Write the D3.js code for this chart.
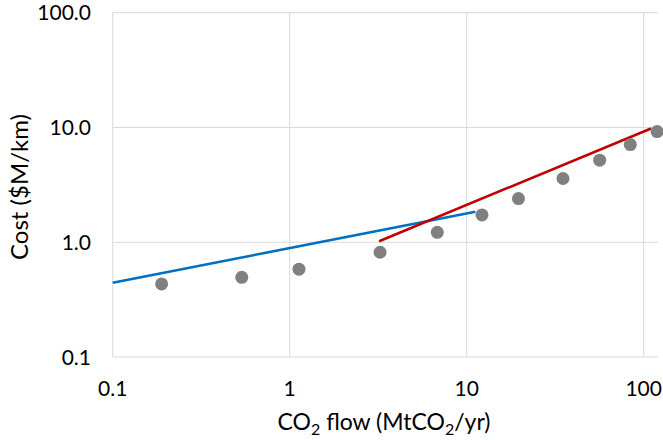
<!DOCTYPE html>
<html><head><meta charset="utf-8">
<script src="https://cdn.jsdelivr.net/npm/d3@7"></script>
<style>body{margin:0;background:#fff;} text{font-family:Lato, "Open Sans", sans-serif; fill:#000;}</style>
</head><body>
<svg id="c" width="663" height="440"></svg>
<script>
const flowX = [0.189, 0.536, 1.128, 3.24, 6.82, 12.2, 19.6, 35.0, 56.4, 84.0, 119];
const costY = [0.433, 0.495, 0.582, 0.818, 1.22, 1.73, 2.40, 3.59, 5.19, 7.10, 9.21];
const blueX = [0.1, 11.2];
const blueY = [0.444, 1.84];
const redX = [3.2, 110];
const redY = [1.02, 9.8];
const xTicks = [0.1, 1, 10, 100];
const yTicks = [0.1, 1, 10, 100];
const xTickLabels = ["0.1", "1", "10", "100"];
const yTickLabels = ["0.1", "1.0", "10.0", "100.0"];

const svg = d3.select("#c");
const L = 112.7, R = 658, T = 12.7, B = 357;
const x = d3.scaleLog().domain([0.1, 120]).range([L, L + 177 * Math.log10(1200)]);
const y = d3.scaleLog().domain([0.1, 100]).range([B, T]);

const g = svg.append("g");
g.selectAll(".gy").data(yTicks).join("line")
  .attr("x1", L).attr("x2", R).attr("y1", d => y(d)).attr("y2", d => y(d))
  .attr("stroke", "#d9d9d9").attr("stroke-width", 1);
g.selectAll(".gx").data(xTicks).join("line")
  .attr("y1", T).attr("y2", B).attr("x1", d => x(d)).attr("x2", d => x(d))
  .attr("stroke", "#d9d9d9").attr("stroke-width", 1);

g.selectAll(".ty").data(yTicks).join("text")
  .attr("x", 91).attr("y", d => y(d)).attr("dy", "0.36em")
  .attr("text-anchor", "end").attr("font-size", 21)
  .text((d, i) => yTickLabels[i]);
g.selectAll(".tx").data(xTicks).join("text")
  .attr("x", d => x(d)).attr("y", 395.5)
  .attr("text-anchor", "middle").attr("font-size", 21)
  .text((d, i) => xTickLabels[i]);

const line = d3.line().x(d => x(d[0])).y(d => y(d[1]));
g.append("path").datum(d3.zip(blueX, blueY)).attr("d", line)
  .attr("fill", "none").attr("stroke", "#0070C0").attr("stroke-width", 2.5);
g.append("path").datum(d3.zip(redX, redY)).attr("d", line)
  .attr("fill", "none").attr("stroke", "#C00000").attr("stroke-width", 2.5);

g.selectAll(".pt").data(d3.zip(flowX, costY)).join("circle")
  .attr("cx", d => x(d[0])).attr("cy", d => y(d[1])).attr("r", 6.5)
  .attr("fill", "#808080");

const xt = svg.append("text").attr("x", 384).attr("y", 430)
  .attr("text-anchor", "middle").attr("font-size", 23);
xt.append("tspan").text("CO");
xt.append("tspan").text("2").attr("font-size", 16).attr("dy", 5);
xt.append("tspan").text(" flow (MtCO").attr("dy", -5);
xt.append("tspan").text("2").attr("font-size", 16).attr("dy", 5);
xt.append("tspan").text("/yr)").attr("dy", -5);

svg.append("text").attr("transform", "translate(28,187) rotate(-90)")
  .attr("text-anchor", "middle").attr("font-size", 24)
  .text("Cost ($M/km)");
</script>
</body></html>
